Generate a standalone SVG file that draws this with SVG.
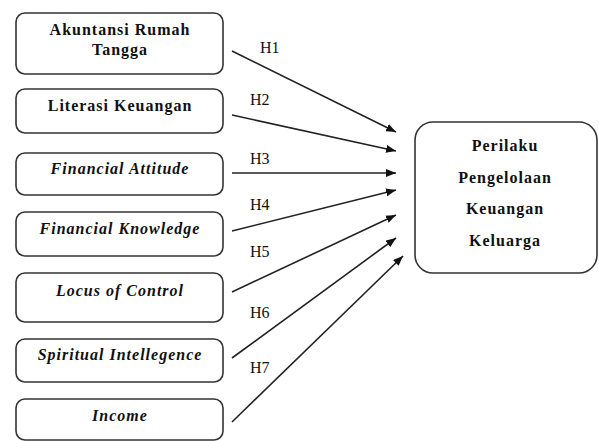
<svg xmlns="http://www.w3.org/2000/svg" width="599" height="441" viewBox="0 0 599 441">
<style>
.box{fill:#fff;stroke:#333;stroke-width:1.6}
.t{font-family:"Liberation Serif","Times New Roman",serif;font-weight:bold;font-size:16px;letter-spacing:1px;fill:#111;text-anchor:middle}
.i{font-style:italic}
.h{font-family:"Liberation Serif","Times New Roman",serif;font-size:16px;fill:#111}
.c{stroke:#222;stroke-width:1.6;fill:none;marker-end:url(#ah)}
</style>
<defs>
<marker id="ah" viewBox="0 0 10 8" refX="10" refY="4" markerWidth="10" markerHeight="8" markerUnits="userSpaceOnUse" orient="auto">
<path d="M0,0 L10,4 L0,8 Z" fill="#111"/>
</marker>
</defs>
<rect width="599" height="441" fill="#fff"/>
<g id="n1"><rect class="box" x="16" y="13" width="207" height="61" rx="9"/><text class="t" x="120" y="35">Akuntansi Rumah</text><text class="t" x="120" y="55">Tangga</text></g>
<g id="n2"><rect class="box" x="16" y="89" width="207" height="44" rx="9"/><text class="t" x="120" y="111">Literasi Keuangan</text></g>
<g id="n3"><rect class="box" x="16" y="153" width="207" height="42" rx="9"/><text class="t i" x="120" y="174">Financial Attitude</text></g>
<g id="n4"><rect class="box" x="16" y="212" width="207" height="44" rx="9"/><text class="t i" x="120" y="234">Financial Knowledge</text></g>
<g id="n5"><rect class="box" x="16" y="273" width="207" height="49" rx="9"/><text class="t i" x="120" y="296">Locus of Control</text></g>
<g id="n6"><rect class="box" x="16" y="339" width="207" height="43" rx="9"/><text class="t i" x="120" y="360">Spiritual Intellegence</text></g>
<g id="n7"><rect class="box" x="16" y="399" width="207" height="41" rx="9"/><text class="t i" x="120" y="421">Income</text></g>
<g id="target"><rect class="box" x="415" y="122" width="182" height="151" rx="18"/>
<text class="t" x="505" y="151">Perilaku</text>
<text class="t" x="505" y="183">Pengelolaan</text>
<text class="t" x="505" y="214">Keuangan</text>
<text class="t" x="505" y="246">Keluarga</text></g>
<g id="connectors">
<line class="c" x1="232" y1="51" x2="396" y2="132"/>
<line class="c" x1="232" y1="115" x2="396" y2="151"/>
<line class="c" x1="232" y1="173" x2="396" y2="173"/>
<line class="c" x1="232" y1="231" x2="396" y2="190"/>
<line class="c" x1="232" y1="292" x2="396" y2="215"/>
<line class="c" x1="232" y1="358" x2="396" y2="238"/>
<line class="c" x1="232" y1="422" x2="403" y2="256"/>
<text class="h" x="260" y="53">H1</text>
<text class="h" x="250" y="105">H2</text>
<text class="h" x="250" y="164">H3</text>
<text class="h" x="250" y="210">H4</text>
<text class="h" x="250" y="257">H5</text>
<text class="h" x="250" y="318">H6</text>
<text class="h" x="250" y="373">H7</text>
</g>
</svg>
